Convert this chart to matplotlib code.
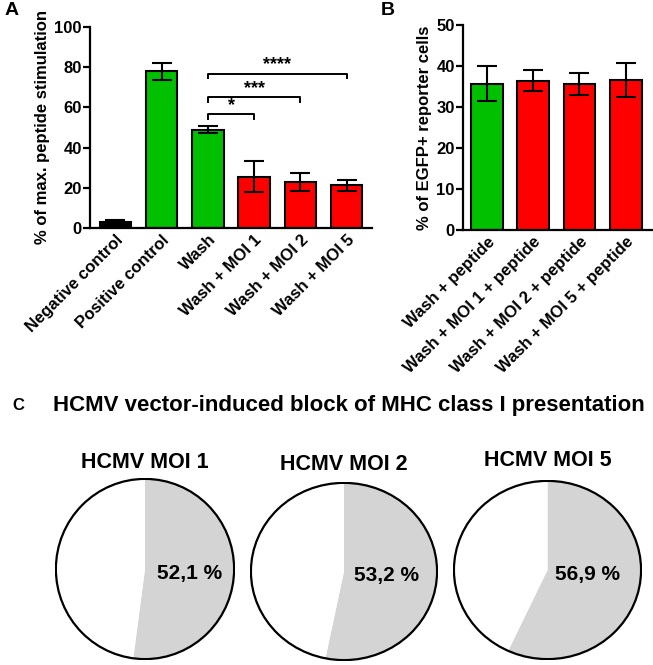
import matplotlib
matplotlib.use("Agg")
import matplotlib.pyplot as plt
from matplotlib.patches import Circle

plt.rcParams['font.family'] = ['Liberation Sans', 'DejaVu Sans']
plt.rcParams['font.weight'] = 'bold'

# --- Panel A data ---
a_labels = ["Negative control", "Positive control", "Wash",
            "Wash + MOI 1", "Wash + MOI 2", "Wash + MOI 5"]
a_values = [3.2, 78.0, 49.0, 25.6, 23.0, 21.3]
a_errors = [1.0, 4.2, 1.7, 7.5, 4.6, 2.8]
a_colors = ["#000000", "#00c000", "#00c000", "#ff0000", "#ff0000", "#ff0000"]
# significance brackets: (from, to, height, stars)
a_sig = [(2, 3, 56.5, "*"), (2, 4, 65.0, "***"), (2, 5, 76.8, "****")]

# --- Panel B data ---
b_labels = ["Wash + peptide", "Wash + MOI 1 + peptide",
            "Wash + MOI 2 + peptide", "Wash + MOI 5 + peptide"]
b_values = [35.7, 36.4, 35.6, 36.6]
b_errors = [4.3, 2.6, 2.7, 4.1]
b_colors = ["#00c000", "#ff0000", "#ff0000", "#ff0000"]

# --- Panel C data ---
c_titles = ["HCMV MOI 1", "HCMV MOI 2", "HCMV MOI 5"]
c_blocked = [52.1, 53.2, 56.9]
c_text = ["52,1 %", "53,2 %", "56,9 %"]

W, H = 653, 665
fig = plt.figure(figsize=(W / 100, H / 100), dpi=100)


def px_axes(x0, y0, x1, y1):
    return fig.add_axes([x0 / W, 1 - y1 / H, (x1 - x0) / W, (y1 - y0) / H])


def style_bar_axes(ax):
    for s in ["top", "right"]:
        ax.spines[s].set_visible(False)
    for s in ["left", "bottom"]:
        ax.spines[s].set_linewidth(1.6)
    ax.tick_params(axis="y", width=1.6, length=5, labelsize=12, pad=1)
    ax.tick_params(axis="x", width=0, length=0, labelsize=12, pad=3)
    for t in ax.get_yticklabels():
        t.set_fontweight("bold")


# Panel A
axA = px_axes(90, 27, 372, 228)
xa = list(range(len(a_values)))
axA.bar(xa, a_values, width=0.68, color=a_colors, edgecolor="black", linewidth=1.5)
axA.errorbar(xa, a_values, yerr=a_errors, fmt="none", ecolor="black",
             elinewidth=1.5, capsize=7, capthick=1.5)
axA.set_xlim(-0.55, 5.55)
axA.set_ylim(0, 100)
axA.set_yticks([0, 20, 40, 60, 80, 100])
axA.set_xticks(xa)
axA.set_xticklabels(a_labels, rotation=45, ha="right", rotation_mode="anchor",
                    fontweight="bold")
axA.set_ylabel("% of max. peptide stimulation", fontsize=12, fontweight="bold",
               labelpad=3)
style_bar_axes(axA)
for i0, i1, h, stars in a_sig:
    axA.plot([i0, i0, i1, i1], [h - 2.3, h, h, h - 2.3], color="black", lw=1.4,
             clip_on=False)
    axA.text((i0 + i1) / 2, h + 0.3, stars, ha="center", va="bottom",
             fontsize=13, fontweight="bold")
fig.text(5 / W, 1 - 2 / H, "A", fontsize=14, fontweight="bold", va="top")

# Panel B
axB = px_axes(463, 25, 652, 230)
xb = list(range(len(b_values)))
axB.bar(xb, b_values, width=0.69, color=b_colors, edgecolor="black", linewidth=1.5)
axB.errorbar(xb, b_values, yerr=b_errors, fmt="none", ecolor="black",
             elinewidth=1.5, capsize=7, capthick=1.5)
axB.set_xlim(-0.52, 3.57)
axB.set_ylim(0, 50)
axB.set_yticks([0, 10, 20, 30, 40, 50])
axB.set_xticks(xb)
axB.set_xticklabels(b_labels, rotation=45, ha="right", rotation_mode="anchor",
                    fontweight="bold")
axB.set_ylabel("% of EGFP+ reporter cells", fontsize=12, fontweight="bold",
               labelpad=3)
style_bar_axes(axB)
fig.text(381 / W, 1 - 2 / H, "B", fontsize=14, fontweight="bold", va="top")

# Panel C
fig.text(12 / W, 1 - 405 / H, "C", fontsize=12, fontweight="bold", va="center")
fig.text(349 / W, 1 - 405 / H, "HCMV vector-induced block of MHC class I presentation",
         fontsize=16, fontweight="bold", ha="center", va="center")

pie_boxes = [(55, 478, 235, 660), (250, 482, 438, 661), (453, 480, 642, 660)]
title_y = [462, 465, 460]
label_dx = [0.5, 0.46, 0.43]
for k, (x0, y0, x1, y1) in enumerate(pie_boxes):
    ax = px_axes(x0, y0, x1, y1)
    p = c_blocked[k]
    ax.pie([p, 100 - p], colors=["#d4d4d4", "white"], startangle=90,
           counterclock=False, radius=1.0, wedgeprops=dict(linewidth=0))
    ax.add_patch(Circle((0, 0), 1.0, facecolor="none", edgecolor="black", lw=1.6))
    ax.set_aspect("auto")
    ax.set_xlim(-1.01, 1.01)
    ax.set_ylim(-1.01, 1.01)
    ax.text(label_dx[k], -0.05, c_text[k], ha="center", va="center", fontsize=15,
            fontweight="bold")
    fig.text((x0 + x1) / 2 / W, 1 - title_y[k] / H, c_titles[k], ha="center",
             va="center", fontsize=15.5, fontweight="bold")

fig.savefig("out.png", dpi=100)
